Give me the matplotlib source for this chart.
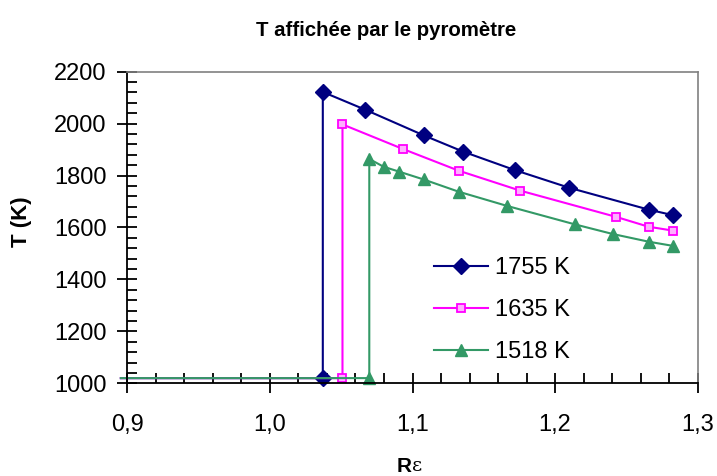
import numpy as np
import matplotlib
matplotlib.use("Agg")
import matplotlib.pyplot as plt
from matplotlib.ticker import MultipleLocator, FuncFormatter

plt.rcParams['font.family'] = ['Liberation Sans', 'DejaVu Sans']

# donnees
x_start = 0.8955
T_low = 1020

x_1755 = [x_start, 1.0371, 1.0371, 1.0667, 1.1078, 1.1356, 1.1718, 1.2099, 1.2655, 1.2830]
T_1755 = [T_low, T_low, 2122, 2054, 1955, 1892, 1821, 1753, 1669, 1647]

x_1635 = [x_start, 1.0509, 1.0509, 1.0930, 1.1323, 1.1755, 1.2427, 1.2655, 1.2826]
T_1635 = [T_low, T_low, 1997, 1903, 1819, 1742, 1641, 1603, 1588]

x_1518 = [x_start, 1.0697, 1.0697, 1.0797, 1.0907, 1.1078, 1.1323, 1.1664, 1.2139, 1.2404, 1.2659, 1.2829]
T_1518 = [T_low, T_low, 1864, 1834, 1815, 1785, 1738, 1683, 1612, 1575, 1545, 1529]

labels = ["1755 K", "1635 K", "1518 K"]

fig = plt.figure(figsize=(7.17, 4.76), dpi=100)
ax = fig.add_axes([127.3/717, (476-383.3)/476, 570.4/717, 311.6/476])

ax.plot(x_1755, T_1755, color="#000080", lw=1.5, marker="D", ms=8.5,
        markevery=list(range(1, len(x_1755))), clip_on=False, label=labels[0])
ax.plot(x_1635, T_1635, color="#FF00FF", lw=1.5, marker="s", ms=6, mfc="#FFB0FF",
        mec="#FF00FF", mew=1.3, markevery=list(range(1, len(x_1635))), clip_on=False, label=labels[1])
ax.plot(x_1518, T_1518, color="#339966", lw=1.5, marker="^", ms=9,
        markevery=list(range(1, len(x_1518))), clip_on=False, label=labels[2])

ax.set_xlim(0.9, 1.3)
ax.set_ylim(1000, 2200)
ax.xaxis.set_major_locator(MultipleLocator(0.1))
ax.xaxis.set_minor_locator(MultipleLocator(0.02))
ax.yaxis.set_major_locator(MultipleLocator(200))
ax.yaxis.set_minor_locator(MultipleLocator(40))
ax.xaxis.set_major_formatter(FuncFormatter(lambda v, p: ("%.1f" % v).replace(".", ",")))

ax.tick_params(which="major", direction="inout", length=14, width=1.3, labelsize=17, pad=15)
ax.tick_params(which="minor", direction="in", length=7, width=1.3)
ax.tick_params(axis="y", which="major", pad=8)
ax.spines["left"].set_linewidth(1.3)
ax.spines["bottom"].set_linewidth(1.3)
ax.spines["top"].set_color("#808080")
ax.spines["right"].set_color("#808080")
ax.spines["top"].set_linewidth(1.2)
ax.spines["right"].set_linewidth(1.2)

leg = ax.legend(loc="upper left", bbox_to_anchor=(0.5, 0.474), frameon=False, fontsize=17,
                handlelength=2.3, labelspacing=0.85, handletextpad=0.3)

fig.text(386/717, 1 - 30/476, "T affichée par le pyromètre", ha="center", va="center",
         fontsize=14.7, fontweight="bold")
fig.text(22/717, 1 - 222/476, "T (K)", ha="center", va="center", rotation=90,
         fontsize=16, fontweight="bold")
fig.text(412/717, 1 - 466/476, "R", ha="right", va="center", fontsize=15, fontweight="bold")
fig.text(412/717, 1 - 466/476, "ε", ha="left", va="center", fontsize=14, family=["DejaVu Serif"])

fig.savefig("out.png", dpi=100)
